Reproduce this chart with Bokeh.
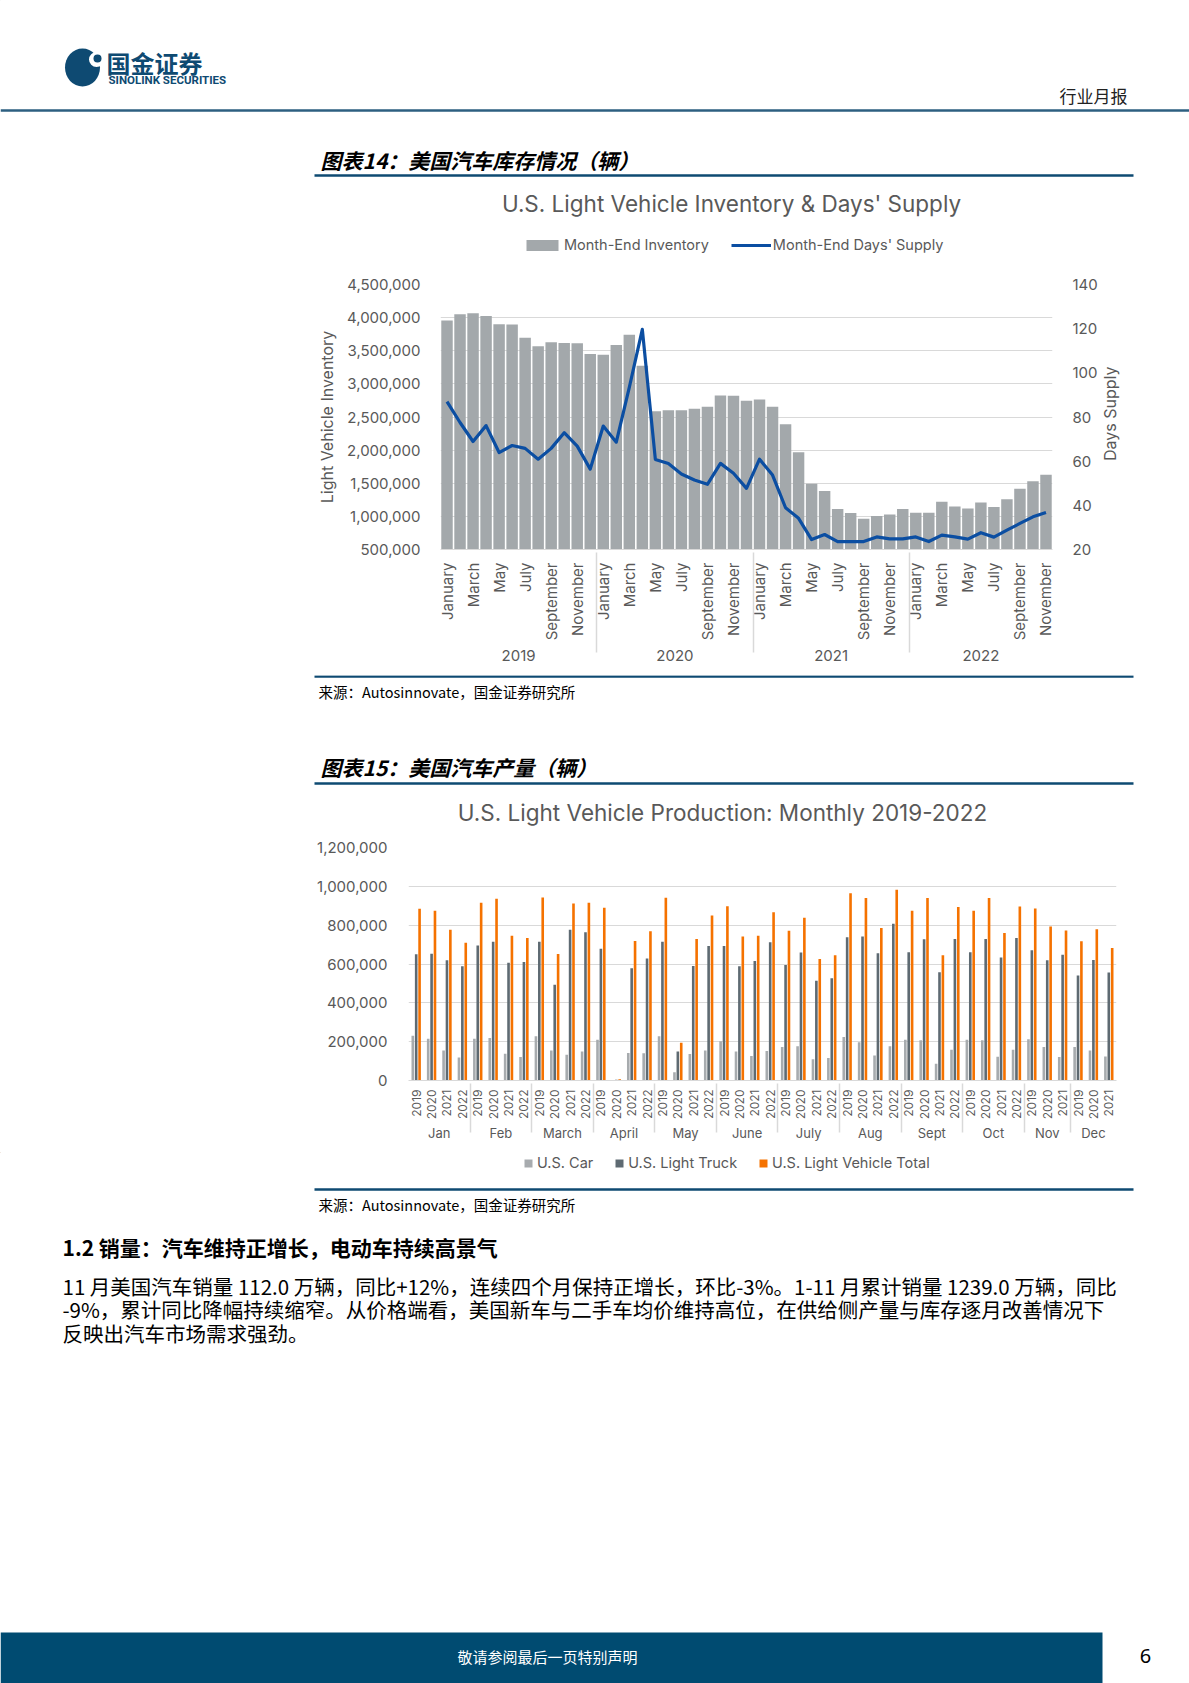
import math
from bokeh.plotting import figure
from bokeh.models import (Range1d, FactorRange, LinearAxis, SingleIntervalTicker,
                          NumeralTickFormatter, Legend, LegendItem, Spacer, ColumnDataSource)
from bokeh.layouts import column, row
from bokeh.transform import dodge
from bokeh.core.properties import value
from bokeh.embed import file_html
from bokeh.resources import INLINE

# ---------------- data: chart 14 (inventory & days' supply) ----------------
inv_years = ["2019"] * 12 + ["2020"] * 12 + ["2021"] * 12 + ["2022"] * 11
month_names = ["January", "February", "March", "April", "May", "June", "July",
               "August", "September", "October", "November", "December"]
inventory = [3955000, 4050000, 4066000, 4026000, 3900000, 3895000, 3698000, 3567000,
             3627000, 3617000, 3612000, 3451000,
             3440000, 3587000, 3743000, 3274000, 2588000, 2603000, 2603000, 2624000,
             2654000, 2825000, 2820000, 2745000,
             2765000, 2654000, 2391000, 1968000, 1494000, 1383000, 1110000, 1050000,
             964000, 1004000, 1030000, 1110000,
             1055000, 1055000, 1221000, 1150000, 1120000, 1211000, 1140000, 1257000,
             1418000, 1529000, 1630000]
days_supply = [87.0, 77.5, 68.9, 76.1, 63.9, 67.1, 65.8, 60.9, 65.8, 72.9, 66.8, 56.4,
               75.9, 68.6, 93.4, 119.7, 60.8, 58.9, 54.2, 51.5, 49.5, 59.0, 54.5, 47.7,
               60.9, 53.7, 38.9, 34.1, 24.5, 26.8, 23.6, 23.6, 23.6, 25.7, 24.8, 24.8,
               25.7, 23.6, 26.5, 25.7, 24.7, 27.6, 25.6, 28.8, 31.8, 34.8, 36.8]

# ---------------- data: chart 15 (production) ----------------
prod_months = ["Jan", "Feb", "March", "April", "May", "June", "July", "Aug",
               "Sept", "Oct", "Nov", "Dec"]
prod_years = ["2019", "2020", "2021", "2022"]
prod_years_per_month = [4, 4, 4, 4, 4, 4, 4, 4, 4, 4, 3, 3]
us_car = [231000, 215000, 155000, 119000,
          215000, 219000, 138000, 121000,
          228000, 155000, 133000, 150000,
          210000, 3000, 141000, 140000,
          228000, 43000, 136000, 155000,
          202000, 150000, 126000, 152000,
          172000, 176000, 109000, 116000,
          224000, 197000, 129000, 176000,
          210000, 207000, 86000, 159000,
          210000, 207000, 122000, 159000,
          212000, 172000, 121000,
          172000, 155000, 124000]
us_truck = [650000, 653000, 619000, 588000,
            695000, 714000, 607000, 610000,
            714000, 493000, 776000, 764000,
            678000, 4000, 578000, 628000,
            714000, 150000, 590000, 693000,
            693000, 588000, 615000, 712000,
            595000, 659000, 514000, 526000,
            738000, 741000, 655000, 807000,
            660000, 728000, 557000, 729000,
            660000, 729000, 633000, 734000,
            671000, 619000, 648000,
            541000, 621000, 556000]
us_total = [884000, 874000, 776000, 709000,
            915000, 936000, 746000, 734000,
            943000, 652000, 912000, 915000,
            890000, 7000, 719000, 769000,
            941000, 195000, 729000, 850000,
            898000, 741000, 745000, 867000,
            771000, 838000, 626000, 645000,
            964000, 940000, 786000, 983000,
            874000, 940000, 645000, 893000,
            874000, 940000, 760000, 896000,
            886000, 793000, 772000,
            717000, 779000, 682000]

W = 1189
CJK = "Noto Sans CJK SC"
SANS = "Inter"
TXT = "#595959"
NAVY = "#0E4A72"
INV_GREY = "#A3A8AB"
INV_BLUE = "#0B4EA2"
CAR_C, TRUCK_C, TOTAL_C = "#A7ABAE", "#5E6A72", "#F57200"
GRID = "#D9D9D9"


def decor(y_top, y_bot, x_left=0, x_right=W):
    p = figure(width=x_right - x_left, height=y_bot - y_top,
               x_range=Range1d(x_left, x_right),
               y_range=Range1d(y_bot, y_top), output_backend="svg",
               toolbar_location=None, x_axis_location=None, y_axis_location=None,
               min_border=0)
    p.grid.visible = False
    p.outline_line_color = None
    return p


def txt(p, x, y, s, size, color="black", font=CJK, style="normal", align="left", angle=0):
    p.text(x=[x], y=[y], text=[s], text_font=value(font), text_font_size=value(size),
           text_color=color, text_font_style=style, text_align=align,
           text_baseline="middle", angle=angle)


def hline(p, x0, x1, y, color=NAVY, width=2.0):
    p.line(x=[x0, x1], y=[y, y], line_color=color, line_width=width)


def legend_in(p, items, loc, glyph_w, glyph_h, spacing, standoff):
    leg = Legend(items=items, orientation="horizontal", location=loc, padding=0,
                 margin=0, spacing=spacing, glyph_width=glyph_w, glyph_height=glyph_h,
                 label_height=16, label_standoff=standoff, background_fill_alpha=0,
                 border_line_color=None, label_text_font=SANS,
                 label_text_font_size="14.5px", label_text_color=TXT)
    p.add_layout(leg)


# legend key renderers: one point placed off the visible page area
OFF_X, OFF_Y, OFF_B = [-500], [-500], [-510]

# ---------------- section A: header + chart 14 caption/title/legend ----------------
A_TOP, A_BOT = 0, 262
pa = decor(A_TOP, A_BOT)
pa.ellipse(x=[82], y=[67], width=[35], height=[38], fill_color=NAVY, line_color=None)
pa.ellipse(x=[96], y=[59], width=[15], height=[15], fill_color="white", line_color=None)
pa.ellipse(x=[97], y=[58], width=[8], height=[8], fill_color=NAVY, line_color=None)
txt(pa, 106, 62, "国金证券", "24px", NAVY, CJK, "bold")
txt(pa, 108, 79, "SINOLINK SECURITIES", "11.5px", NAVY, "Roboto", "bold")
txt(pa, 1059, 95, "行业月报", "17px", "#222222")
hline(pa, 0, W, 110, "#2D5F80", 2.5)
txt(pa, 320, 159, "图表14：美国汽车库存情况（辆）", "21px", "black", CJK, "bold italic")
hline(pa, 314, 1133, 175, NAVY, 2.5)
txt(pa, 731, 203, "U.S. Light Vehicle Inventory & Days' Supply", "22.5px", TXT, SANS,
    "normal", "center")
lg_bar = pa.vbar(x=OFF_X, top=OFF_Y, bottom=OFF_B, width=1, fill_color=INV_GREY,
                 line_color=None)
lg_line = pa.line(x=[-500, -490], y=[-500, -500], line_color=INV_BLUE, line_width=3.2)
legend_in(pa, [LegendItem(label="Month-End Inventory", renderers=[lg_bar]),
               LegendItem(label="Month-End Days' Supply", renderers=[lg_line])],
          (522, A_BOT - 253), 40, 14, 22, 2)

# ---------------- chart 14 ----------------
factors14 = []
for i, yr in enumerate(inv_years):
    m = i % 12
    lab = month_names[m] if m % 2 == 0 else " " * (m // 2 + 1)
    factors14.append((yr, lab))

B_H = 675 - A_BOT
P1_RIGHT = 1101
src14 = ColumnDataSource(dict(x=factors14, inv=inventory, days=days_supply))
p1 = figure(width=P1_RIGHT - 314, height=B_H,
            x_range=FactorRange(factors=factors14, group_padding=0, range_padding=0,
                                factor_padding=0),
            y_range=Range1d(500000, 4500000), output_backend="svg",
            toolbar_location=None, min_border_left=123, min_border_right=P1_RIGHT - 1052,
            min_border_top=284 - A_BOT, min_border_bottom=126)
p1.extra_y_ranges = {"days": Range1d(20, 140)}
p1.vbar(x="x", top="inv", bottom=0, width=0.88, source=src14,
        fill_color=INV_GREY, line_color=None)
p1.line(x="x", y="days", source=src14, y_range_name="days",
        line_color=INV_BLUE, line_width=3.2, line_join="round")
p1.outline_line_color = None
p1.xgrid.visible = False
p1.ygrid.grid_line_color = GRID
p1.ygrid.ticker = SingleIntervalTicker(interval=500000)

ya = p1.yaxis[0]
ya.ticker = SingleIntervalTicker(interval=500000)
ya.formatter = NumeralTickFormatter(format="0,0")
ya.axis_label = "Light Vehicle Inventory"
ya.axis_label_text_font = SANS
ya.axis_label_text_font_style = "normal"
ya.axis_label_text_font_size = "16px"
ya.axis_label_text_color = TXT
ya.axis_label_standoff = 7
ya.major_label_text_font = SANS
ya.major_label_text_font_size = "15px"
ya.major_label_text_color = TXT
ya.major_label_standoff = 14
ya.axis_line_color = None
ya.major_tick_line_color = None
ya.minor_tick_line_color = None

ra = LinearAxis(y_range_name="days", ticker=SingleIntervalTicker(interval=20))
ra.major_label_text_font = SANS
ra.major_label_text_font_size = "15px"
ra.major_label_text_color = TXT
ra.major_label_standoff = 14
ra.axis_line_color = None
ra.major_tick_line_color = None
ra.minor_tick_line_color = None
p1.add_layout(ra, "right")

xa = p1.xaxis[0]
xa.major_label_orientation = math.pi / 2
xa.major_label_text_font = SANS
xa.major_label_text_font_size = "15px"
xa.major_label_text_color = TXT
xa.major_label_standoff = 7
xa.group_text_font = SANS
xa.group_text_font_size = "15px"
xa.group_text_font_style = "normal"
xa.group_text_color = TXT
xa.group_label_orientation = "horizontal"
xa.separator_line_color = GRID
xa.separator_line_width = 1.5
xa.axis_line_color = GRID
xa.major_tick_line_color = None

# right-axis title column (reads bottom-to-top like the reference);
# rotated text grows upward from its anchor, so the anchor sits half a label below centre
pr = decor(A_BOT, 675, P1_RIGHT, W)
txt(pr, 1109, 416.5 + 47, "Days Supply", "16px", TXT, SANS, "normal", "center", math.pi / 2)

# ---------------- section C ----------------
C_TOP, C_BOT = 675, 830
pc = decor(C_TOP, C_BOT)
hline(pc, 314, 1133, 676, NAVY, 2.5)
txt(pc, 318, 691, "来源：Autosinnovate，国金证券研究所", "14.5px", "black")
txt(pc, 320, 766, "图表15：美国汽车产量（辆）", "21px", "black", CJK, "bold italic")
hline(pc, 314, 1133, 783, NAVY, 2.5)
txt(pc, 722, 812, "U.S. Light Vehicle Production: Monthly 2019-2022", "22.5px", TXT, SANS,
    "normal", "center")

# ---------------- chart 15 ----------------
D_BOT = 1152
factors15 = []
for m, n in zip(prod_months, prod_years_per_month):
    for yr in prod_years[:n]:
        factors15.append((m, yr))
src15 = ColumnDataSource(dict(x=factors15, car=us_car, truck=us_truck, total=us_total))
p2 = figure(width=819, height=D_BOT - C_BOT,
            x_range=FactorRange(factors=factors15, group_padding=0, range_padding=0,
                                factor_padding=0),
            y_range=Range1d(0, 1200000), output_backend="svg", toolbar_location=None,
            min_border_left=94, min_border_right=17, min_border_top=847 - C_BOT,
            min_border_bottom=D_BOT - 1080)
p2.vbar(x=dodge("x", -0.22, range=p2.x_range), top="car", width=0.17,
        source=src15, fill_color=CAR_C, line_color=None)
p2.vbar(x=dodge("x", 0.0, range=p2.x_range), top="truck", width=0.17,
        source=src15, fill_color=TRUCK_C, line_color=None)
p2.vbar(x=dodge("x", 0.22, range=p2.x_range), top="total", width=0.17,
        source=src15, fill_color=TOTAL_C, line_color=None)
p2.outline_line_color = None
p2.xgrid.visible = False
p2.ygrid.grid_line_color = GRID
p2.ygrid.ticker = SingleIntervalTicker(interval=200000)

ya2 = p2.yaxis[0]
ya2.ticker = SingleIntervalTicker(interval=200000)
ya2.formatter = NumeralTickFormatter(format="0,0")
ya2.major_label_text_font = SANS
ya2.major_label_text_font_size = "15px"
ya2.major_label_text_color = TXT
ya2.major_label_standoff = 15
ya2.axis_line_color = None
ya2.major_tick_line_color = None
ya2.minor_tick_line_color = None

xa2 = p2.xaxis[0]
xa2.major_label_orientation = math.pi / 2
xa2.major_label_text_font = SANS
xa2.major_label_text_font_size = "12px"
xa2.major_label_text_color = TXT
xa2.major_label_standoff = 3
xa2.group_text_font = SANS
xa2.group_text_font_size = "13px"
xa2.group_text_font_style = "normal"
xa2.group_text_color = TXT
xa2.group_label_orientation = "horizontal"
xa2.separator_line_color = GRID
xa2.separator_line_width = 1.5
xa2.axis_line_color = GRID
xa2.major_tick_line_color = None

# ---------------- section E ----------------
E_TOP, E_BOT = D_BOT, 1683
pe = decor(E_TOP, E_BOT)
lg_car = pe.vbar(x=OFF_X, top=OFF_Y, bottom=OFF_B, width=1, fill_color=CAR_C,
                 line_color=None)
lg_truck = pe.vbar(x=OFF_X, top=OFF_Y, bottom=OFF_B, width=1, fill_color=TRUCK_C,
                   line_color=None)
lg_total = pe.vbar(x=OFF_X, top=OFF_Y, bottom=OFF_B, width=1, fill_color=TOTAL_C,
                   line_color=None)
legend_in(pe, [LegendItem(label="U.S. Car", renderers=[lg_car]),
               LegendItem(label="U.S. Light Truck", renderers=[lg_truck]),
               LegendItem(label="U.S. Light Vehicle Total", renderers=[lg_total])],
          (523, E_BOT - 1171), 10, 10, 21, 4)
hline(pe, 314, 1133, 1189, NAVY, 2.5)
txt(pe, 318, 1204, "来源：Autosinnovate，国金证券研究所", "14.5px", "black")
txt(pe, 62, 1246, "1.2 销量：汽车维持正增长，电动车持续高景气", "21px", "black", CJK, "bold")
para = ["11 月美国汽车销量 112.0 万辆，同比+12%，连续四个月保持正增长，环比-3%。1-11 月累计销量 1239.0 万辆，同比",
        "-9%，累计同比降幅持续缩窄。从价格端看，美国新车与二手车均价维持高位，在供给侧产量与库存逐月改善情况下",
        "反映出汽车市场需求强劲。"]
for k, s in enumerate(para):
    txt(pe, 62, 1285 + k * 23.5, s, "20.5px", "black")
pe.quad(left=[0], right=[1102], bottom=[1683], top=[1632], fill_color="#004B71",
        line_color=None)
txt(pe, 547, 1656, "敬请参阅最后一页特别声明", "15px", "white", CJK, "normal", "center")
txt(pe, 1145, 1655, "6", "20px", "black", "Noto Sans", "normal", "center")

layout = column(pa,
                row(Spacer(width=314, height=B_H), p1, pr),
                pc,
                row(Spacer(width=314, height=D_BOT - C_BOT), p2,
                    Spacer(width=56, height=D_BOT - C_BOT)),
                pe)

open("out.html", "w").write(file_html(layout, INLINE))
